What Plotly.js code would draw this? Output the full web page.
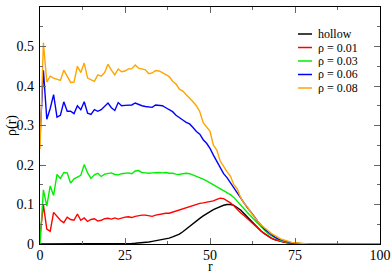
<!DOCTYPE html>
<html><head><meta charset="utf-8">
<script src="https://cdn.plot.ly/plotly-3.0.1.min.js"></script>
<style>body{margin:0;padding:0;background:#fff}#plot{width:392px;height:273px}</style>
</head><body><div id="plot"></div>
<script>
const r = [0,1,2,3,4,5,6,7,8,9,10,11,12,13,14,15,16,17,18,19,20,21,22,23,24,25,26,27,28,29,30,31,32,33,34,35,36,37,38,39,40,41,42,43,44,45,46,47,48,49,50,51,52,53,54,55,56,57,58,59,60,61,62,63,64,65,66,67,68,69,70,71,72,73,74,75,76,77,78,79,80,81,82,83,84,85,86,87,88,89,90,91,92,93,94,95,96,97,98,99,100];

const hollow = [0,0,0,0,0,0,0,0,0,0,0,0,0,0,0,0,0,0,0,0,0,0.0002,0.0005,0.0007,0.0009,0.001,0.0013,0.0016,0.002,0.0025,0.003,0.004,0.005,0.0065,0.008,0.0095,0.011,0.013,0.015,0.018,0.021,0.025,0.031,0.038,0.046,0.053,0.059,0.065,0.071,0.077,0.083,0.087,0.091,0.095,0.098,0.1,0.1,0.098,0.093,0.086,0.077,0.068,0.059,0.05,0.041,0.033,0.026,0.02,0.015,0.011,0.008,0.006,0.004,0.003,0.002,0.001,0.0006,0.0003,0.0001,0,0,0,0,0,0,0,0,0,0,0,0,0,0,0,0,0,0,0,0,0,0];

const rho001 = [0.02,0.099,0.038,0.032,0.08,0.07,0.06,0.054,0.068,0.062,0.06,0.076,0.06,0.066,0.057,0.062,0.064,0.058,0.06,0.064,0.065,0.063,0.066,0.063,0.066,0.068,0.069,0.067,0.07,0.072,0.073,0.073,0.071,0.07,0.073,0.075,0.076,0.078,0.078,0.081,0.083,0.086,0.088,0.092,0.095,0.098,0.1,0.103,0.104,0.106,0.107,0.109,0.113,0.116,0.115,0.11,0.104,0.097,0.087,0.079,0.072,0.064,0.058,0.049,0.041,0.033,0.027,0.02,0.015,0.011,0.008,0.006,0.004,0.003,0.002,0.001,0.0006,0.0003,0.0001,0,0,0,0,0,0,0,0,0,0,0,0,0,0,0,0,0,0,0,0,0,0];

const rho003 = [0,0.137,0.096,0.147,0.123,0.176,0.166,0.181,0.18,0.154,0.165,0.169,0.174,0.201,0.18,0.166,0.175,0.179,0.171,0.177,0.179,0.18,0.176,0.175,0.178,0.179,0.18,0.178,0.185,0.186,0.181,0.18,0.179,0.18,0.181,0.181,0.18,0.181,0.179,0.179,0.177,0.176,0.178,0.179,0.178,0.175,0.172,0.168,0.164,0.16,0.155,0.15,0.146,0.142,0.136,0.13,0.125,0.118,0.108,0.1,0.09,0.08,0.071,0.062,0.052,0.043,0.035,0.027,0.021,0.016,0.011,0.008,0.006,0.004,0.003,0.002,0.001,0.0006,0.0003,0.0001,0,0,0,0,0,0,0,0,0,0,0,0,0,0,0,0,0,0,0,0,0];

const rho006 = [0.27,0.44,0.316,0.343,0.378,0.321,0.326,0.36,0.336,0.336,0.33,0.35,0.34,0.36,0.331,0.328,0.34,0.336,0.34,0.348,0.357,0.345,0.338,0.358,0.35,0.351,0.352,0.352,0.357,0.353,0.35,0.348,0.347,0.346,0.352,0.351,0.35,0.345,0.341,0.335,0.326,0.319,0.314,0.308,0.304,0.295,0.285,0.278,0.264,0.255,0.242,0.225,0.21,0.195,0.178,0.168,0.155,0.14,0.128,0.115,0.104,0.092,0.082,0.07,0.058,0.047,0.038,0.031,0.024,0.018,0.013,0.01,0.007,0.005,0.003,0.002,0.001,0.0006,0.0003,0.0001,0,0,0,0,0,0,0,0,0,0,0,0,0,0,0,0,0,0,0,0,0];

const rho008 = [0.24,0.51,0.41,0.425,0.42,0.417,0.414,0.44,0.425,0.409,0.41,0.45,0.434,0.458,0.42,0.415,0.412,0.428,0.425,0.434,0.455,0.44,0.428,0.443,0.436,0.438,0.443,0.444,0.453,0.445,0.443,0.441,0.431,0.433,0.439,0.438,0.434,0.428,0.424,0.412,0.405,0.392,0.387,0.378,0.37,0.36,0.35,0.335,0.307,0.297,0.285,0.25,0.238,0.21,0.195,0.183,0.172,0.15,0.14,0.118,0.103,0.094,0.08,0.068,0.058,0.048,0.04,0.034,0.027,0.021,0.017,0.012,0.009,0.007,0.004,0.003,0.002,0.001,0.0006,0.0003,0.0001,0,0,0,0,0,0,0,0,0,0,0,0,0,0,0,0,0,0,0,0];

const seriesNames = ['hollow','ρ = 0.01','ρ = 0.03','ρ = 0.06','ρ = 0.08'];
const seriesData = [hollow, rho001, rho003, rho006, rho008];
const seriesColors = ['#000000','#ff0000','#00ee00','#0000ff','#ffa500'];

const xTicks = [0,25,50,75,100];
const yTicks = [0,0.1,0.2,0.3,0.4,0.5,0.6];
const yTickText = ['0','0.1','0.2','0.3','0.4','0.5','0.6'];

const traces = seriesData.map((d,i)=>({
  x: r, y: d, type:'scatter', mode:'lines', name: seriesNames[i],
  line:{color: seriesColors[i], width:1.4}, showlegend:false
}));

const fontFam = 'Liberation Serif';

// compact legend like the original
const legY = [34, 47.5, 61, 74.5, 88];
const px2x = p => (p-40)/340, px2y = p => (244-p)/237;
const shapes = [], annotations = [];
seriesNames.forEach((n,i)=>{
  shapes.push({type:'line', xref:'paper', yref:'paper', x0:px2x(298), x1:px2x(312), y0:px2y(legY[i]), y1:px2y(legY[i]), line:{color:seriesColors[i], width:1.5}});
  annotations.push({xref:'paper', yref:'paper', x:px2x(317), y:px2y(legY[i]), xanchor:'left', yanchor:'middle', text:n, showarrow:false, height:12, borderpad:0, font:{family:fontFam, size:12, color:'#000'}});
});
// axis titles
annotations.push({xref:'paper', yref:'paper', x:px2x(210), y:px2y(265.5), xanchor:'center', yanchor:'middle', text:'r', showarrow:false, borderpad:0, height:10, font:{family:fontFam, size:14, color:'#000'}});
annotations.push({xref:'paper', yref:'paper', x:px2x(12), y:px2y(126), xanchor:'center', yanchor:'middle', text:'ρ(r)', textangle:-90, showarrow:false, font:{family:fontFam, size:14, color:'#000'}});

const layout = {
  width:392, height:273,
  margin:{l:40, r:12, t:7, b:29},
  paper_bgcolor:'#fff', plot_bgcolor:'#fff',
  font:{family:fontFam, size:14, color:'#000'},
  showlegend:false,
  xaxis:{range:[0,100], tickvals:xTicks, ticktext:xTicks.map(String), ticks:'inside', ticklen:6, tickwidth:1, tickcolor:'#666',
    minor:{ticks:'inside', ticklen:3, tickcolor:'#666', dtick:12.5, tick0:0},
    showline:true, linecolor:'#000', linewidth:1.2, mirror:'allticks', showgrid:false, zeroline:false,
    tickfont:{family:fontFam, size:14}, ticklabelstandoff:-2},
  yaxis:{range:[0,0.6], tickvals:yTicks, ticktext:yTickText, ticks:'inside', ticklen:6, tickwidth:1, tickcolor:'#666',
    minor:{ticks:'inside', ticklen:3, tickcolor:'#666', dtick:0.05, tick0:0},
    showline:true, linecolor:'#000', linewidth:1.2, mirror:'allticks', showgrid:false, zeroline:false,
    tickfont:{family:fontFam, size:14}, ticklabelstandoff:2},
  shapes: shapes, annotations: annotations
};
Plotly.newPlot('plot', traces, layout, {displayModeBar:false, staticPlot:true});
</script></body></html>
